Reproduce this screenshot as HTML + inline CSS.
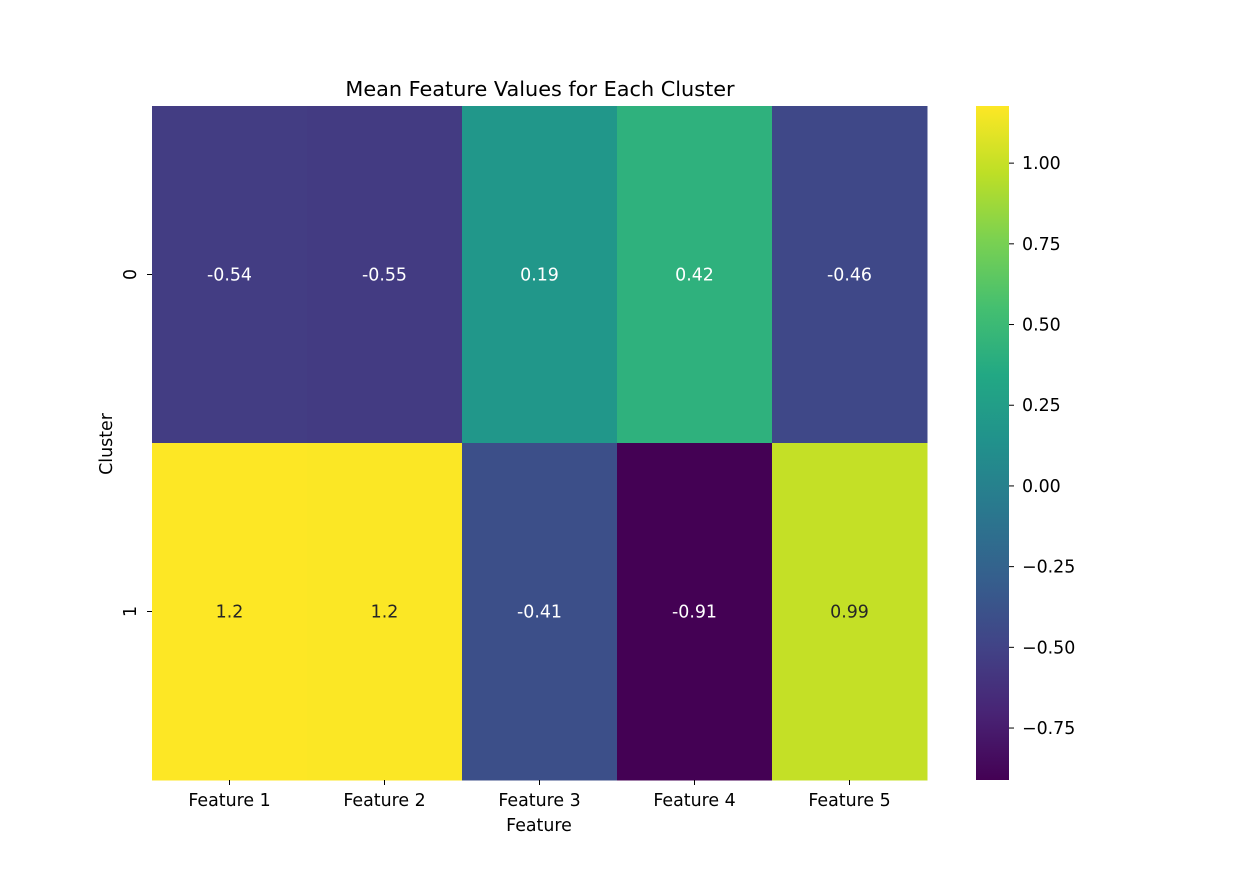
<!DOCTYPE html>
<html><head><meta charset="utf-8">
<style>
html,body{margin:0;padding:0;background:#fff;}
svg text{font-family:"DejaVu Sans","Liberation Sans",sans-serif;}
</style></head>
<body>
<svg id="chart" width="1243" height="873" xmlns="http://www.w3.org/2000/svg">
<rect width="1243" height="873" fill="#fff"/>
<defs>
<linearGradient id="vir" x1="0" y1="1" x2="0" y2="0">
<stop offset="0" stop-color="#440154"/><stop offset="0.1" stop-color="#482475"/>
<stop offset="0.2" stop-color="#414487"/><stop offset="0.3" stop-color="#355f8d"/>
<stop offset="0.4" stop-color="#2a788e"/><stop offset="0.5" stop-color="#21918c"/>
<stop offset="0.6" stop-color="#22a884"/><stop offset="0.7" stop-color="#44bf70"/>
<stop offset="0.8" stop-color="#7ad151"/><stop offset="0.9" stop-color="#bddf26"/>
<stop offset="1" stop-color="#fde725"/>
</linearGradient>
</defs>
<text x="540" y="96" font-size="20.8" text-anchor="middle" fill="#000">Mean Feature Values for Each Cluster</text>
<g id="cells"></g>
<g id="axes"></g>
<text x="539" y="831" font-size="17.4" text-anchor="middle">Feature</text>
<text transform="translate(112,444) rotate(-90)" font-size="17.4" text-anchor="middle">Cluster</text>
<rect x="976" y="106" width="33" height="674" fill="url(#vir)"/>
<g id="cbar"></g>
</svg>
<script>
const features = ["Feature 1","Feature 2","Feature 3","Feature 4","Feature 5"];
const clusters = ["0","1"];
const row0 = [-0.54,-0.55,0.19,0.42,-0.46];
const row1 = [1.177,1.17,-0.41,-0.911,0.99];
const row0Labels = ["-0.54","-0.55","0.19","0.42","-0.46"];
const row1Labels = ["1.2","1.2","-0.41","-0.91","0.99"];
const cbarTicks = [-0.75,-0.5,-0.25,0,0.25,0.5,0.75,1.0];
const cbarTickLabels = ["\u22120.75","\u22120.50","\u22120.25","0.00","0.25","0.50","0.75","1.00"];

const NS="http://www.w3.org/2000/svg";
const rows=[row0,row1], rowLabels=[row0Labels,row1Labels];
const all=row0.concat(row1);
const vmin=Math.min(...all), vmax=Math.max(...all);
const X0=152,X1=927,Y0=106,Y1=780;
const cw=(X1-X0)/features.length, ch=(Y1-Y0)/clusters.length;
const xPos=i=>X0+i*cw, yPos=j=>Y0+j*ch;
const cbY=v=>Y1-(v-vmin)/(vmax-vmin)*(Y1-Y0);
const stops=["#440154","#482475","#414487","#355f8d","#2a788e","#21918c","#22a884","#44bf70","#7ad151","#bddf26","#fde725"].map(h=>[parseInt(h.slice(1,3),16),parseInt(h.slice(3,5),16),parseInt(h.slice(5,7),16)]);
function viridis(t){t=Math.max(0,Math.min(1,t));const s=t*10,i=Math.min(9,Math.floor(s)),f=s-i;return stops[i].map((c,k)=>Math.round(c+(stops[i+1][k]-c)*f));}
function relLum(c){const l=c.map(v=>{v/=255;return v<=0.03928?v/12.92:Math.pow((v+0.055)/1.055,2.4);});return 0.2126*l[0]+0.7152*l[1]+0.0722*l[2];}
function mk(tag,attrs,parent){const e=document.createElementNS(NS,tag);for(const k in attrs)e.setAttribute(k,attrs[k]);parent.appendChild(e);return e;}
const cells=document.getElementById('cells'), axes=document.getElementById('axes'), cbar=document.getElementById('cbar');
rows.forEach((r,j)=>r.forEach((v,i)=>{
  const c=viridis((v-vmin)/(vmax-vmin));
  const rect=mk('rect',{x:xPos(i),y:yPos(j),width:cw+0.5,height:ch+0.5,fill:`rgb(${c})`},cells);
  
  
  const t=mk('text',{x:xPos(i)+cw/2,y:yPos(j)+ch/2+6,'font-size':17.4,'text-anchor':'middle',fill:relLum(c)>0.408?'#262626':'#fff'},cells);
  t.textContent=rowLabels[j][i];
  
  
}));
features.forEach((f,i)=>{
  const x=xPos(i)+cw/2;
  mk('line',{x1:x,x2:x,y1:Y1,y2:Y1+5,stroke:'#000','stroke-width':1},axes);
  const t=mk('text',{x:x,y:Y1+26,'font-size':17.4,'text-anchor':'middle'},axes);
  t.textContent=f;
  
  
});
clusters.forEach((c,j)=>{
  const y=yPos(j)+ch/2;
  mk('line',{x1:X0-5,x2:X0,y1:y,y2:y,stroke:'#000','stroke-width':1},axes);
  const t=mk('text',{transform:`translate(136,${y}) rotate(-90)`,'font-size':17.4,'text-anchor':'middle'},axes);
  t.textContent=c;
  
  
});
cbarTicks.forEach((v,k)=>{
  const y=cbY(v);
  mk('line',{x1:1009,x2:1014,y1:y,y2:y,stroke:'#000','stroke-width':1},cbar);
  const t=mk('text',{x:1022,y:y+6,'font-size':17.4},cbar);
  t.textContent=cbarTickLabels[k];
  
  
});
</script>
</body></html>
